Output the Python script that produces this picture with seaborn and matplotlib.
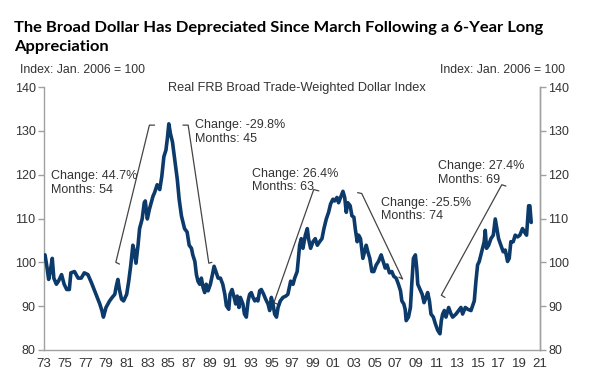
import matplotlib
matplotlib.use("Agg")
import matplotlib.pyplot as plt
import seaborn as sns
import pandas as pd

years = [1973.1, 1973.3, 1973.45, 1973.6, 1973.8, 1973.95, 1974.2, 1974.4, 1974.7, 1974.95,
         1975.2, 1975.45, 1975.6, 1975.95, 1976.3, 1976.6, 1976.9, 1977.25, 1977.6, 1977.9,
         1978.15, 1978.4, 1978.6, 1978.75, 1979.0, 1979.35, 1979.6, 1979.85, 1980.0, 1980.15,
         1980.3, 1980.5, 1980.7, 1981.0, 1981.2, 1981.4, 1981.6, 1981.75, 1981.9, 1982.1,
         1982.25, 1982.5, 1982.7, 1982.8, 1983.0, 1983.2, 1983.55, 1983.7, 1983.95, 1984.2,
         1984.4, 1984.6, 1984.8, 1984.95, 1985.08, 1985.24, 1985.43, 1985.66, 1985.9, 1986.08,
         1986.3, 1986.46, 1986.6, 1986.85, 1987.05, 1987.27, 1987.4, 1987.6, 1987.75, 1987.9,
         1988.07, 1988.23, 1988.4, 1988.55, 1988.7, 1988.88, 1989.1, 1989.3, 1989.46, 1989.68,
         1989.85, 1990.07, 1990.3, 1990.5, 1990.65, 1990.88, 1991.0, 1991.2, 1991.4, 1991.55,
         1991.7, 1991.87, 1992.0, 1992.25, 1992.4, 1992.58, 1992.75, 1992.9, 1993.06, 1993.23,
         1993.4, 1993.55, 1993.7, 1993.87, 1994.03, 1994.26, 1994.45, 1994.68, 1994.84, 1995.0,
         1995.16, 1995.32, 1995.5, 1995.65, 1995.87, 1996.13, 1996.4, 1996.6, 1996.87, 1997.1,
         1997.26, 1997.5, 1997.74, 1997.9, 1998.06, 1998.29, 1998.48, 1998.6, 1998.8, 1999.03,
         1999.25, 1999.45, 1999.67, 1999.9, 2000.09, 2000.32, 2000.54, 2000.73, 2000.96, 2001.12,
         2001.35, 2001.51, 2001.7, 2001.93, 2002.1, 2002.25, 2002.4, 2002.63, 2002.8, 2002.99,
         2003.12, 2003.31, 2003.44, 2003.63, 2003.86, 2004.02, 2004.18, 2004.34, 2004.53, 2004.73,
         2004.92, 2005.15, 2005.37, 2005.63, 2005.82, 2006.02, 2006.2, 2006.43, 2006.66, 2006.85,
         2007.08, 2007.3, 2007.5, 2007.63, 2007.82, 2007.95, 2008.05, 2008.27, 2008.46, 2008.59,
         2008.75, 2008.94, 2009.07, 2009.17, 2009.39, 2009.6, 2009.78, 2009.97, 2010.13, 2010.3,
         2010.45, 2010.68, 2010.87, 2011.1, 2011.32, 2011.45, 2011.58, 2011.74, 2011.9, 2012.16,
         2012.39, 2012.55, 2012.87, 2013.13, 2013.35, 2013.51, 2013.77, 2014.0, 2014.32, 2014.64,
         2014.8, 2014.96, 2015.12, 2015.28, 2015.44, 2015.6, 2015.7, 2015.83, 2016.03, 2016.25,
         2016.48, 2016.67, 2016.83, 2016.99, 2017.22, 2017.44, 2017.64, 2017.86, 2018.02, 2018.18,
         2018.41, 2018.6, 2018.83, 2019.05, 2019.31, 2019.5, 2019.7, 2019.9, 2020.02, 2020.15]

index_values = [101.7, 98.7, 96.1, 97.9, 100.9, 96.4, 95.0, 95.7, 97.2, 95.0,
                93.8, 93.8, 97.6, 97.9, 96.4, 96.4, 97.6, 97.2, 95.3, 93.5,
                92.0, 90.5, 89.0, 87.5, 89.7, 91.2, 92.0, 92.7, 94.6, 96.1,
                93.8, 91.6, 91.2, 92.7, 95.7, 99.4, 103.9, 102.4, 99.8, 103.9,
                107.7, 109.9, 113.6, 114.0, 109.9, 112.1, 115.1, 115.9, 117.7, 116.6,
                119.6, 124.1, 125.6, 128.5, 131.6, 129.3, 127.5, 123.3, 118.9, 114.4,
                110.6, 109.1, 107.7, 106.9, 103.9, 103.2, 101.7, 100.2, 97.2, 95.7,
                95.0, 96.4, 94.2, 93.1, 95.0, 93.5, 95.0, 97.2, 99.1, 97.6,
                96.4, 96.4, 95.0, 92.7, 90.1, 89.3, 92.7, 93.8, 92.0, 90.5,
                92.3, 89.7, 92.0, 90.5, 88.2, 87.5, 91.2, 92.7, 93.1, 92.0,
                91.2, 91.6, 91.2, 93.5, 93.8, 92.7, 91.6, 90.5, 89.0, 92.0,
                90.5, 88.2, 87.5, 89.7, 91.2, 92.0, 92.3, 92.7, 95.7, 95.0,
                96.4, 97.9, 103.9, 105.4, 103.2, 106.2, 107.7, 105.4, 103.2, 104.7,
                105.4, 103.9, 104.7, 105.4, 107.7, 109.9, 111.4, 113.3, 114.4, 114.0,
                114.8, 113.6, 114.8, 116.2, 114.8, 111.4, 113.6, 112.9, 110.6, 110.3,
                107.7, 104.7, 106.2, 105.4, 100.9, 102.4, 103.9, 102.4, 100.9, 97.9,
                97.9, 99.4, 100.2, 101.7, 100.2, 98.7, 99.4, 97.6, 97.9, 96.8,
                96.4, 95.0, 93.5, 91.2, 90.5, 89.3, 86.7, 87.5, 89.7, 95.0,
                100.9, 101.7, 98.7, 95.0, 93.8, 92.7, 90.8, 92.0, 93.1, 91.2,
                88.2, 87.5, 86.0, 84.5, 83.7, 86.7, 88.2, 89.0, 87.5, 89.7,
                88.2, 87.5, 88.2, 89.0, 89.7, 88.2, 89.7, 89.3, 89.0, 91.2,
                95.7, 99.4, 100.2, 101.7, 103.2, 104.7, 107.3, 103.2, 103.9, 105.4,
                106.2, 109.9, 107.7, 105.4, 103.9, 102.4, 102.8, 100.2, 100.9, 104.7,
                104.7, 106.2, 105.8, 106.2, 107.7, 106.9, 106.2, 112.9, 112.9, 109.1]

tick_years = list(range(1973, 2022, 2))
tick_labels = [f"{y % 100:02d}" for y in tick_years]
y_ticks = [80, 90, 100, 110, 120, 130, 140]

# annotations: text, text anchor (year, value), bracket (start, end), hook ends
ann_texts = ["Change: 44.7%\nMonths: 54", "Change: -29.8%\nMonths: 45",
             "Change: 26.4%\nMonths: 63", "Change: -25.5%\nMonths: 74",
             "Change: 27.4%\nMonths: 69"]
ann_text_pos = [(1973.7, 121.0), (1987.6, 132.6), (1993.1, 121.6), (2005.6, 115.0), (2011.1, 123.3)]
ann_lines = [[(1980.3, 99.6), (1979.95, 100.0), (1983.2, 131.3), (1983.7, 131.3)],
             [(1986.45, 131.3), (1986.95, 131.3), (1988.95, 99.8), (1989.25, 100.0)],
             [(1995.65, 90.4), (1995.25, 90.8), (1999.1, 116.6), (1999.6, 116.3)],
             [(2003.35, 115.9), (2003.75, 115.7), (2007.7, 96.2), (2007.35, 96.6)],
             [(2011.8, 92.0), (2011.45, 92.5), (2017.3, 117.7), (2017.7, 117.4)]]

df = pd.DataFrame({"year": years, "index": index_values})

sns.set_style("white")
plt.rcParams['font.family'] = ['Liberation Sans', 'DejaVu Sans']

fig = plt.figure(figsize=(6.05, 3.85), dpi=100)
ax = fig.add_axes([44 / 605, 35 / 385, 496 / 605, 263 / 385])

sns.lineplot(data=df, x="year", y="index", ax=ax, sort=False, color="#0c3a6a",
             linewidth=2.6, zorder=3)

ax.set_xlim(1973, 2021)
ax.set_ylim(80, 140)
ax.set_xticks(tick_years)
ax.set_xticklabels(tick_labels)
ax.set_yticks(y_ticks)
ax.set_xlabel("")
ax.set_ylabel("")

ax2 = ax.twinx()
ax2.set_ylim(80, 140)
ax2.set_yticks(y_ticks)

spine_col = "#a0a0a0"
for a in (ax, ax2):
    a.spines["top"].set_visible(False)
    for s in ("left", "right", "bottom"):
        a.spines[s].set_color(spine_col)
        a.spines[s].set_linewidth(1.0)
    a.tick_params(axis="both", colors=spine_col, labelcolor="#333333", labelsize=9,
                  length=4, width=1.0, direction="out", pad=2)
ax.tick_params(axis="x", labelsize=9.5)
ax2.spines["left"].set_visible(False)
ax2.spines["bottom"].set_visible(False)

for txt, pos in zip(ann_texts, ann_text_pos):
    ax.text(pos[0], pos[1], txt, fontsize=9, color="#333333", va="top", ha="left",
            linespacing=1.15)
for pts in ann_lines:
    xs = [p[0] for p in pts]
    ys = [p[1] for p in pts]
    ax.plot(xs, ys, color="#444444", linewidth=0.9, zorder=2)

fig.text(297 / 605, 1 - 88 / 385, "Real FRB Broad Trade-Weighted Dollar Index",
         fontsize=9.2, color="#333333", ha="center", va="center")
fig.text(20 / 605, 1 - 70 / 385, "Index: Jan. 2006 = 100", fontsize=8.8,
         color="#333333", ha="left", va="center")
fig.text(565 / 605, 1 - 70 / 385, "Index: Jan. 2006 = 100", fontsize=8.8,
         color="#333333", ha="right", va="center")

fig.text(14 / 605, 1 - 21 / 385,
         "The Broad Dollar Has Depreciated Since March Following a 6-Year Long\nAppreciation",
         fontsize=11.85, fontweight="bold", family=["Lato", "DejaVu Sans"], color="black",
         ha="left", va="top", linespacing=1.45)

fig.savefig("out.png", dpi=100, facecolor="white")
